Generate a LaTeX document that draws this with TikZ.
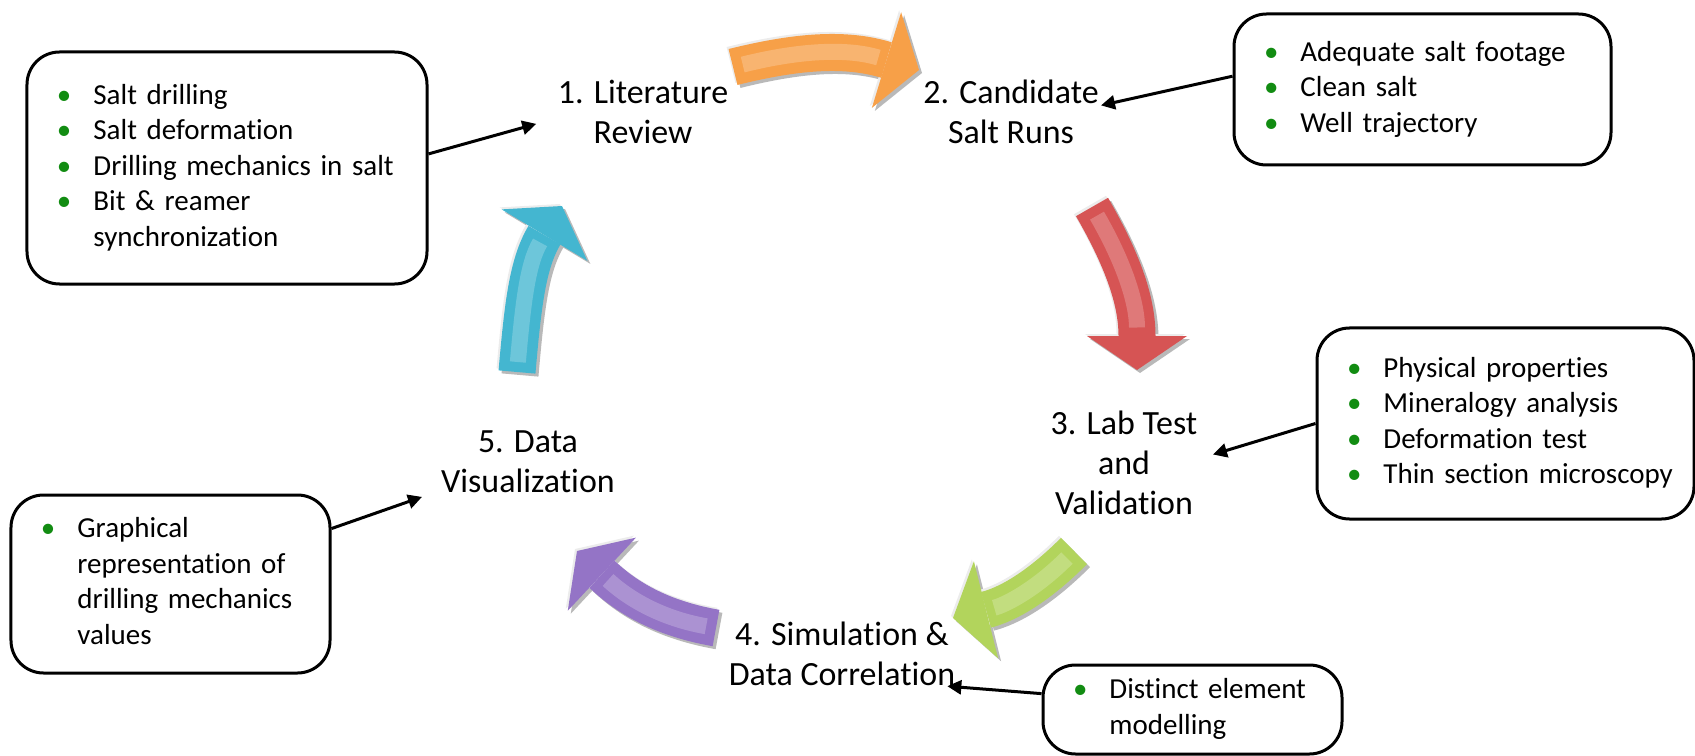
\documentclass[tikz,border=0pt]{standalone}
\usepackage{fontspec}
\setmainfont{Carlito}[Ligatures=NoCommon]
\usepackage{xcolor}
\usepackage{tikz}
\usetikzlibrary{arrows.meta}

\definecolor{bulgreen}{RGB}{18,140,18}
\definecolor{arOrange}{RGB}{247,160,72}
\definecolor{arRed}{RGB}{214,84,84}
\definecolor{arGreen}{RGB}{178,212,92}
\definecolor{arPurple}{RGB}{148,116,198}
\definecolor{arCyan}{RGB}{68,182,208}

\newcommand\bul{\textcolor{bulgreen}{\textbullet}}
\newcommand\pts[1]{\begin{tabular}{@{}l@{\hspace{4.4mm}}l@{}}#1\end{tabular}}

\begin{document}
\begin{tikzpicture}[x=0.2mm,y=0.2mm,
  stage/.style={align=center,inner sep=0pt,font=\fontsize{19.3pt}{22.7pt}\selectfont},
  infobox/.style={draw,line width=0.6mm,rounded corners=6.5mm,inner xsep=6mm,inner ysep=0pt,
    align=left,font=\fontsize{16.5pt}{20.2pt}\selectfont},
  link/.style={line width=0.6mm,-{Triangle[length=2.8mm,width=2.8mm]}},
  band/.style={line width=7.4mm,-{Triangle[length=6.8mm,width=20mm,line width=0pt]}},
  gloss/.style={line width=3.2mm,white,opacity=.22,shorten <=2mm,shorten >=8.5mm}]
\useasboundingbox (0,0) rectangle (1695,-756);

% the five curved cycle arrows
\foreach \col/\ax/\ay/\o/\i/\bx/\by in {arOrange/733/-67/14/163/919/-70,
    arRed/1092/-207/-60/90/1137/-370,
    arGreen/1074/-551/-135/14/953/-618,
    arPurple/716/-628/170/-43/577/-551,
    arCyan/517/-372/85/239/562/-206}{
  \draw[band,gray!55,transform canvas={shift={(0.6mm,-0.6mm)}}] (\ax,\ay) to[out=\o,in=\i] (\bx,\by);
  \draw[band,gray!15,transform canvas={shift={(-0.4mm,0.4mm)}}] (\ax,\ay) to[out=\o,in=\i] (\bx,\by);
  \draw[band,\col] (\ax,\ay) to[out=\o,in=\i] (\bx,\by);
  \draw[gloss] (\ax,\ay) to[out=\o,in=\i] (\bx,\by);
}

% stage labels
\node[stage] (l1) at (643,-112) {1. Literature\\Review};
\node[stage] (l2) at (1011,-112) {2. Candidate\\Salt Runs};
\node[stage] (l3) at (1124,-463) {3. Lab Test\\and\\Validation};
\node[stage] (l4) at (842,-654) {4. Simulation \&\\Data Correlation};
\node[stage] (l5) at (528,-462) {5. Data\\Visualization};

% bullet boxes
\node[infobox,text width=68mm,minimum height=46.4mm] (b1) at (227,-168) {\pts{
  \bul & Salt drilling\\
  \bul & Salt deformation\\
  \bul & Drilling mechanics in salt\\
  \bul & Bit \& reamer\\
       & synchronization}};
\node[infobox,text width=63.4mm,minimum height=30.2mm] (b2) at (1422.5,-89.5) {\pts{
  \bul & Adequate salt footage\\
  \bul & Clean salt\\
  \bul & Well trajectory}};
\node[infobox,text width=63.4mm,minimum height=38.2mm] (b3) at (1505.5,-423.5) {\pts{
  \bul & Physical properties\\
  \bul & Mineralogy analysis\\
  \bul & Deformation test\\
  \bul & Thin section microscopy}};
\node[infobox,text width=47.8mm,minimum height=17.8mm] (b4) at (1192.5,-709.5) {\pts{
  \bul & Distinct element\\
       & modelling}};
\node[infobox,text width=51.8mm,minimum height=35.6mm] (b5) at (170.5,-584) {\pts{
  \bul & Graphical\\
       & representation of\\
       & drilling mechanics\\
       & values}};

% pointers from boxes to stages
\draw[link,shorten >=4.4mm] (b1.4) -- (l1.184);
\draw[link,shorten >=0.4mm] (b2.176) -- (l2.4);
\draw[link,shorten >=3.2mm] (b3.west) -- (l3.3);
\draw[link] (b4.174) -- (l4.-17);
\draw[link,shorten >=4mm] (b5.19) -- (l5.198);
\end{tikzpicture}
\end{document}
